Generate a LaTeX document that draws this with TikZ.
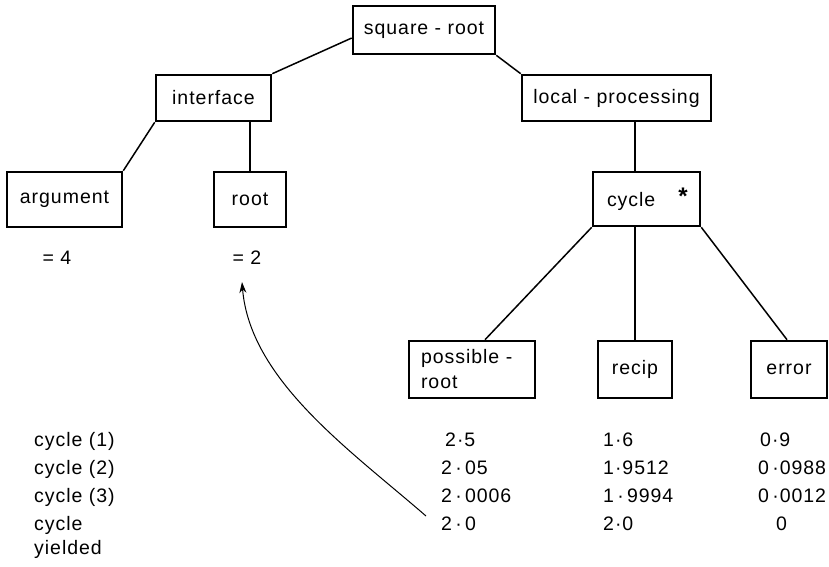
\documentclass[tikz,border=0pt]{standalone}
\usepackage{fontspec}
\setmainfont[LetterSpace=5]{Liberation Sans}
\usetikzlibrary{arrows.meta,calc}

\begin{document}
\begin{tikzpicture}[x=1pt,y=-1pt,
  lbl/.style={font=\fontsize{19.5}{25}\selectfont},
  box/.style={lbl,draw,line width=2.6pt,rectangle,inner sep=0pt,align=center},
  link/.style={line width=1.5pt},
  val/.style={lbl,inner sep=0pt,anchor=base west},
  eq/.style={lbl,inner sep=0pt,anchor=base}]
\useasboundingbox (0,0) rectangle (829,566);

% tree of boxes
\node[box,minimum width=142,minimum height=48] (sq) at (424,30) {square - root};
\node[box,minimum width=115,minimum height=46] (iface) at (213.5,98) {interface};
\node[box,minimum width=189,minimum height=46] (local) at (616.5,98) {local - processing};
\node[box,minimum width=115,minimum height=55] (arg) at (64.5,199.5) {argument};
\node[box,minimum width=72,minimum height=55] (root) at (250,199.5) {root};
\node[box,minimum width=107,minimum height=54,text width=79,inner xsep=14,align=left,text depth=0pt] (cyc) at (646.5,199) {cycle};
\node[lbl,inner sep=0pt,font=\fontsize{24}{24}\selectfont\bfseries] (star) at (683,196) {*};
\node[box,minimum width=126,minimum height=57,text width=102,inner xsep=12,align=left] (poss) at (472,369.5) {possible -\\root};
\node[box,minimum width=74,minimum height=57] (recip) at (635,369.5) {recip};
\node[box,minimum width=76,minimum height=57] (err) at (789,369.5) {error};

% connectors
\draw[link] ($(sq.west)+(0,8)$) -- (iface.north east);
\draw[link] (sq.south east) -- (local.north west);
\draw[link] (iface.south west) -- (arg.north east);
\draw[link] (root.north) -- (root.north |- iface.south);
\draw[link] (recip.north |- local.south) -- (recip.north |- cyc.north);
\draw[link] (cyc.south west) -- ($(poss.north)+(13,0)$);
\draw[link] (recip.north |- cyc.south) -- (recip.north);
\draw[link] (cyc.south east) -- ($(err.north)+(-2,0)$);

% values of the interface items
\node[eq] (eqa) at (57,264) {= 4};
\node[eq] (eqr) at (247,264) {= 2};

% table of cycles
\node[val] (c1) at (34,446.5) {cycle (1)};
\node[val] (c2) at (34,474.5) {cycle (2)};
\node[val] (c3) at (34,502.5) {cycle (3)};
\node[val] (c4) at (34,530.5) {cycle};
\node[val] (c5) at (34,554.5) {yielded};

\node[val] (p1) at (445,446.5) {2·5};
\node[val] (p2) at (441,474.5) {2\,·\,05};
\node[val] (p3) at (441,502.5) {2\,·\,0006};
\node[val] (p4) at (441,530.5) {2\,·\,0};

\node[val] (r1) at (603,446.5) {1·6};
\node[val] (r2) at (603,474.5) {1·9512};
\node[val] (r3) at (603,502.5) {1\,·\,9994};
\node[val] (r4) at (603,530.5) {2·0};

\node[val] (e1) at (760,446.5) {0·9};
\node[val] (e2) at (758,474.5) {0\,·0988};
\node[val] (e3) at (758,502.5) {0\,·0012};
\node[val] (e4) at (776,530.5) {0};

% the yielded root is passed back up
\coordinate (tail) at (426,516);
\coordinate (tip) at (242,282);
\draw[line width=1pt,-{Stealth[length=11pt,width=7pt]}] (tail) .. controls (350,450) and (250,380) .. (tip);
\end{tikzpicture}
\end{document}
